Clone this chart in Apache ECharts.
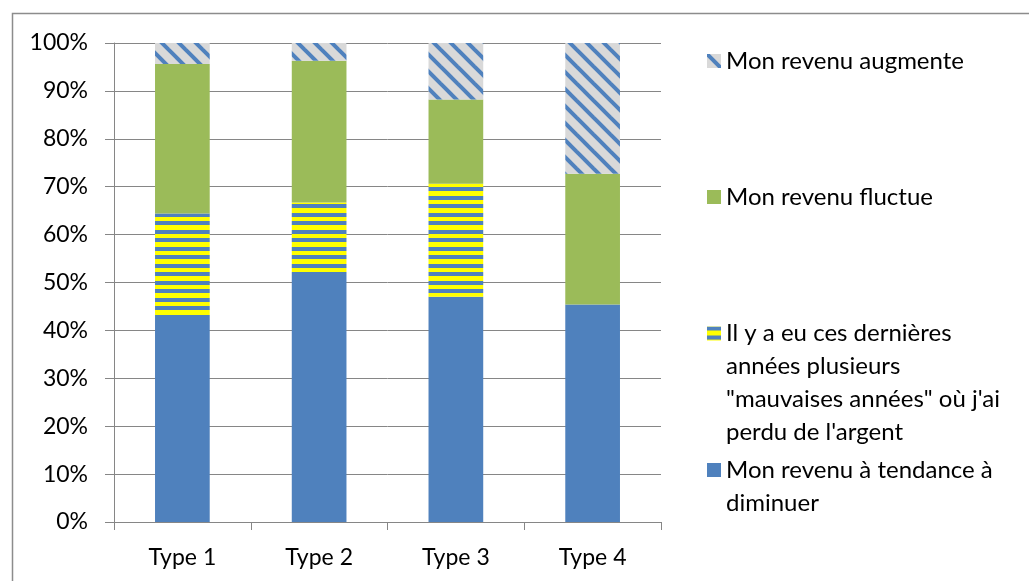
<!DOCTYPE html>
<html>
<head>
<meta charset="utf-8">
<script src="https://cdn.jsdelivr.net/npm/echarts@6/dist/echarts.min.js"></script>
<style>
html,body{margin:0;padding:0;background:#fff;}
#chart{width:1029px;height:581px;}
</style>
</head>
<body>
<div id="chart"></div>
<script>
const categories = ['Type 1', 'Type 2', 'Type 3', 'Type 4'];
const yTickLabels = ['0%', '10%', '20%', '30%', '40%', '50%', '60%', '70%', '80%', '90%', '100%'];
const seriesNames = [
  'Mon revenu à tendance à diminuer',
  'Il y a eu ces dernières années plusieurs "mauvaises années" où j\'ai perdu de l\'argent',
  'Mon revenu fluctue',
  'Mon revenu augmente'
];
const legendLabels = [
  'Mon revenu à tendance à\ndiminuer',
  'Il y a eu ces dernières\nannées plusieurs\n"mauvaises années" où j\'ai\nperdu de l\'argent',
  'Mon revenu fluctue',
  'Mon revenu augmente'
];
const diminuer = [43.2, 51.8, 47.0, 45.4];
const mauvaises = [21.2, 14.9, 23.6, 0];
const fluctue = [31.2, 29.6, 17.6, 27.3];
const augmente = [4.4, 3.7, 11.8, 27.3];

function stripePattern() {
  const c = document.createElement('canvas');
  c.width = 16; c.height = 17;
  const g = c.getContext('2d');
  g.fillStyle = '#ffff00';
  g.fillRect(0, 0, 16, 17);
  g.fillStyle = '#4f81bd';
  g.fillRect(0, 0, 16, 4);
  g.fillRect(0, 9, 16, 4);
  return c;
}
function hatchPattern() {
  const s = 17;
  const c = document.createElement('canvas');
  c.width = s; c.height = s;
  const g = c.getContext('2d');
  g.fillStyle = '#d9d9d9';
  g.fillRect(0, 0, s, s);
  g.strokeStyle = '#4f81bd';
  g.lineWidth = 4;
  [-s, 0, s].forEach(function (o) {
    g.beginPath();
    g.moveTo(o - 2, -2);
    g.lineTo(o + s + 2, s + 2);
    g.stroke();
  });
  return c;
}

const colors = [
  '#4f81bd',
  { image: stripePattern(), repeat: 'repeat' },
  '#9bbb59',
  { image: hatchPattern(), repeat: 'repeat' }
];
const dataSets = [diminuer, mauvaises, fluctue, augmente];

const FONT = 'Lato, "Open Sans", sans-serif';
const LH = 33;

function makeLegend(idx, top) {
  const label = legendLabels[idx];
  const n = label.split('\n').length;
  // prepend (n-1) empty lines so the icon (centred on the text block) sits on the first line
  const shown = '\n'.repeat(n - 1) + label;
  return {
    data: [seriesNames[idx]],
    orient: 'vertical',
    left: 707,
    top: top,
    padding: 0,
    icon: 'rect',
    itemWidth: 14,
    itemHeight: 14,
    selectedMode: false,
    formatter: function () { return shown; },
    textStyle: {
      fontFamily: FONT,
      fontSize: 24,
      color: '#000',
      lineHeight: LH
    }
  };
}
const iconTops = [463, 326.5, 190, 54];
const legends = [0, 1, 2, 3].map(function (i) {
  const n = legendLabels[i].split('\n').length;
  return makeLegend(i, iconTops[i] - ((2 * n - 1) * LH) / 2 + 7);
});

const chart = echarts.init(document.getElementById('chart'));
chart.setOption({
  animation: false,
  backgroundColor: '#fff',
  grid: { left: 114, right: 368, top: 43, bottom: 59, containLabel: false },
  legend: legends,
  xAxis: {
    type: 'category',
    data: categories,
    axisLine: { lineStyle: { color: '#868686', width: 1 } },
    axisTick: { show: true, length: 8, alignWithLabel: false, lineStyle: { color: '#868686' } },
    axisLabel: { fontFamily: FONT, fontSize: 23, color: '#000', margin: 24 }
  },
  yAxis: {
    type: 'value',
    min: 0,
    max: 100,
    interval: 10,
    axisLine: { show: true, lineStyle: { color: '#868686', width: 1 } },
    axisTick: { show: true, length: 9, lineStyle: { color: '#868686' } },
    axisLabel: {
      fontFamily: FONT, fontSize: 23, color: '#000', margin: 26,
      formatter: function (v) { return yTickLabels[Math.round(v / 10)]; }
    },
    splitLine: { show: true, lineStyle: { color: '#868686', width: 1 } }
  },
  series: dataSets.map(function (d, i) {
    return {
      name: seriesNames[i],
      type: 'bar',
      stack: 'total',
      barWidth: '40%',
      data: d,
      itemStyle: { color: colors[i] },
      emphasis: { disabled: true }
    };
  }),
  graphic: [{
    type: 'rect',
    shape: { x: 12.5, y: 13.5, width: 1100, height: 700 },
    style: { fill: 'none', stroke: '#8c8c8c', lineWidth: 1.5 },
    silent: true
  }]
});
</script>
</body>
</html>
